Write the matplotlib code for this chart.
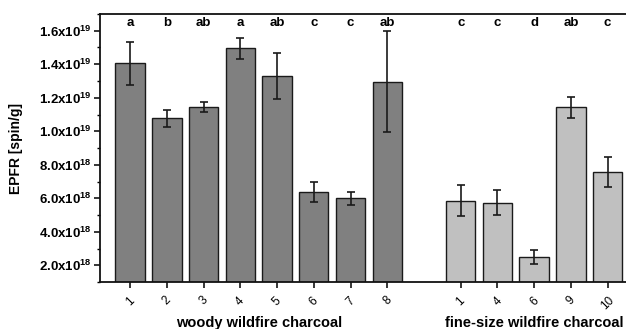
import matplotlib
matplotlib.use("Agg")
import matplotlib.pyplot as plt
import matplotlib.transforms as mtransforms
import numpy as np
from matplotlib.ticker import MultipleLocator

plt.rcParams['font.family'] = ['Liberation Sans', 'DejaVu Sans']
plt.rcParams['mathtext.fontset'] = 'custom'
plt.rcParams['mathtext.rm'] = 'Liberation Sans:bold'
plt.rcParams['mathtext.bf'] = 'Liberation Sans:bold'
plt.rcParams['mathtext.default'] = 'bf'

# Data (values in spin/g)
woody_labels = ['1', '2', '3', '4', '5', '6', '7', '8']
woody_values = [14.05e18, 10.77e18, 11.47e18, 14.95e18, 13.3e18, 6.38e18, 6.0e18, 12.96e18]
woody_errors = [1.3e18, 0.5e18, 0.3e18, 0.62e18, 1.36e18, 0.6e18, 0.4e18, 3.03e18]
woody_letters = ['a', 'b', 'ab', 'a', 'ab', 'c', 'c', 'ab']

fine_labels = ['1', '4', '6', '9', '10']
fine_values = [5.86e18, 5.74e18, 2.48e18, 11.43e18, 7.57e18]
fine_errors = [0.92e18, 0.75e18, 0.43e18, 0.61e18, 0.89e18]
fine_letters = ['c', 'c', 'd', 'ab', 'c']

ytick_values = [2e18, 4e18, 6e18, 8e18, 1e19, 1.2e19, 1.4e19, 1.6e19]
ytick_labels = ['2.0x10$^{18}$', '4.0x10$^{18}$', '6.0x10$^{18}$', '8.0x10$^{18}$',
                '1.0x10$^{19}$', '1.2x10$^{19}$', '1.4x10$^{19}$', '1.6x10$^{19}$']

group_names = ['woody wildfire charcoal', 'fine-size wildfire charcoal']

fig = plt.figure(figsize=(6.26, 3.29), dpi=100)
ax = fig.add_axes([100/626, 1-282/329, 1-100/626, (282-14)/329])

xw = np.arange(len(woody_values))
xf = np.arange(len(fine_values)) + len(woody_values) + 1

edge = '#1a1a1a'
ax.bar(xw, woody_values, width=0.8, color='#808080', edgecolor=edge, linewidth=1.0, zorder=2)
ax.bar(xf, fine_values, width=0.8, color='#c0c0c0', edgecolor=edge, linewidth=1.0, zorder=2)
ax.errorbar(xw, woody_values, yerr=woody_errors, fmt='none', ecolor='#1a1a1a',
            elinewidth=1.2, capsize=3, capthick=1.2, zorder=3)
ax.errorbar(xf, fine_values, yerr=fine_errors, fmt='none', ecolor='#1a1a1a',
            elinewidth=1.2, capsize=3, capthick=1.2, zorder=3)

for x, t in zip(list(xw) + list(xf), woody_letters + fine_letters):
    ax.text(x, 1.645e19, t, ha='center', va='center', fontsize=9.5, fontweight='bold')

ax.set_xlim(-0.82, 13.5)
ax.set_ylim(1e18, 1.7e19)

ax.set_xticks(list(xw) + list(xf))
ax.set_xticklabels(woody_labels + fine_labels, rotation=45, ha='center', fontsize=8.5)
offset = mtransforms.ScaledTranslation(5/100, 0, fig.dpi_scale_trans)
for lbl in ax.get_xticklabels():
    lbl.set_transform(lbl.get_transform() + offset)
ax.set_yticks(ytick_values)
ax.set_yticklabels(ytick_labels, fontsize=9.5, fontweight='bold')
ax.yaxis.set_minor_locator(MultipleLocator(1e18))
ax.tick_params(axis='y', which='major', direction='out', length=4, width=1.1, pad=2)
ax.tick_params(axis='y', which='minor', direction='out', length=2.5, width=1.0)
ax.tick_params(axis='x', which='major', direction='out', length=4, width=1.1, pad=5)

for s in ['left', 'bottom', 'top']:
    ax.spines[s].set_linewidth(1.3)
    ax.spines[s].set_color('#111111')
ax.spines['right'].set_visible(False)

ax.set_ylabel('EPFR [spin/g]', fontsize=10, fontweight='bold', labelpad=11.5)

ax.text(np.mean(xw), -0.152, group_names[0], transform=ax.get_xaxis_transform(),
        ha='center', va='center', fontsize=10.5, fontweight='bold')
ax.text(np.mean(xf), -0.152, group_names[1], transform=ax.get_xaxis_transform(),
        ha='center', va='center', fontsize=10.5, fontweight='bold')

fig.savefig('out.png', dpi=100)
